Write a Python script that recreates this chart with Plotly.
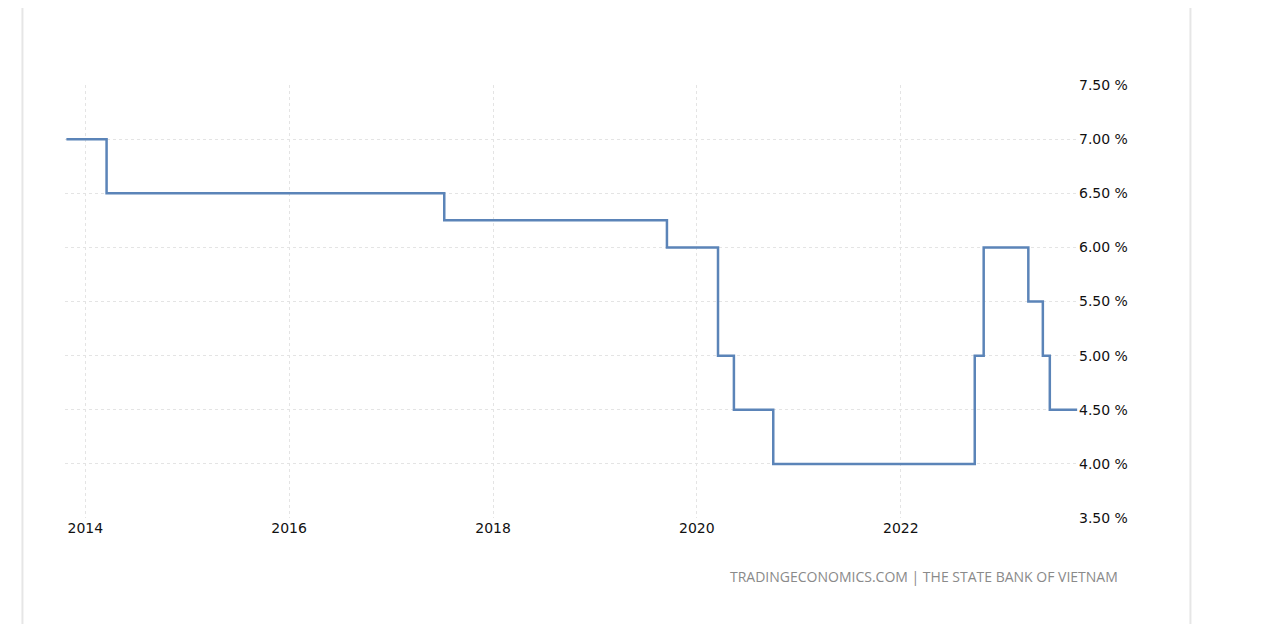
import plotly.graph_objects as go

# policy rate change dates and levels (step series)
dates = ["2013-10-25", "2014-03-18", "2017-07-10", "2019-09-16", "2020-03-17",
         "2020-05-13", "2020-10-01", "2022-09-23", "2022-10-25", "2023-04-03",
         "2023-05-25", "2023-06-19", "2023-09-25"]
rates = [7.0, 6.5, 6.25, 6.0, 5.0, 4.5, 4.0, 5.0, 6.0, 5.5, 5.0, 4.5, 4.5]

tick_years = ["2014-01-01", "2016-01-01", "2018-01-01", "2020-01-01", "2022-01-01"]
tick_year_labels = ["2014", "2016", "2018", "2020", "2022"]
y_ticks = [3.5, 4.0, 4.5, 5.0, 5.5, 6.0, 6.5, 7.0, 7.5]

fig = go.Figure()
fig.add_trace(go.Scatter(
    x=dates, y=rates, mode="lines", line_shape="hv",
    line=dict(color="#5b84b8", width=2.5), showlegend=False,
))

grid = dict(showgrid=True, gridcolor="#e4e4e4", griddash="dot", gridwidth=1, zeroline=False)
fig.update_layout(
    width=1264, height=624,
    paper_bgcolor="white", plot_bgcolor="white",
    margin=dict(l=57, r=194, t=77, b=114),
    font=dict(family="DejaVu Sans", size=14, color="#111"),
    xaxis=dict(range=["2013-10-20", "2023-09-28"], tickvals=tick_years,
               ticktext=tick_year_labels, ticks="", **grid),
    yaxis=dict(range=[3.5, 7.5], side="right", tickvals=y_ticks,
               ticktext=[f"{v:.2f} %" for v in y_ticks], ticks="", **grid),
    shapes=[dict(type="rect", xref="paper", yref="paper",
                 x0=-0.042, x1=1.111, y0=-0.4, y1=1.185,
                 line=dict(color="#e6e6e6", width=2), layer="below")],
    annotations=[dict(text="TRADINGECONOMICS.COM | THE STATE BANK OF VIETNAM",
                      xref="paper", yref="paper", x=1.041, y=-0.136,
                      xanchor="right", yanchor="middle", showarrow=False,
                      font=dict(family="Open Sans", size=14, color="#8a8a8a"))],
)

fig.write_html("out.html")
